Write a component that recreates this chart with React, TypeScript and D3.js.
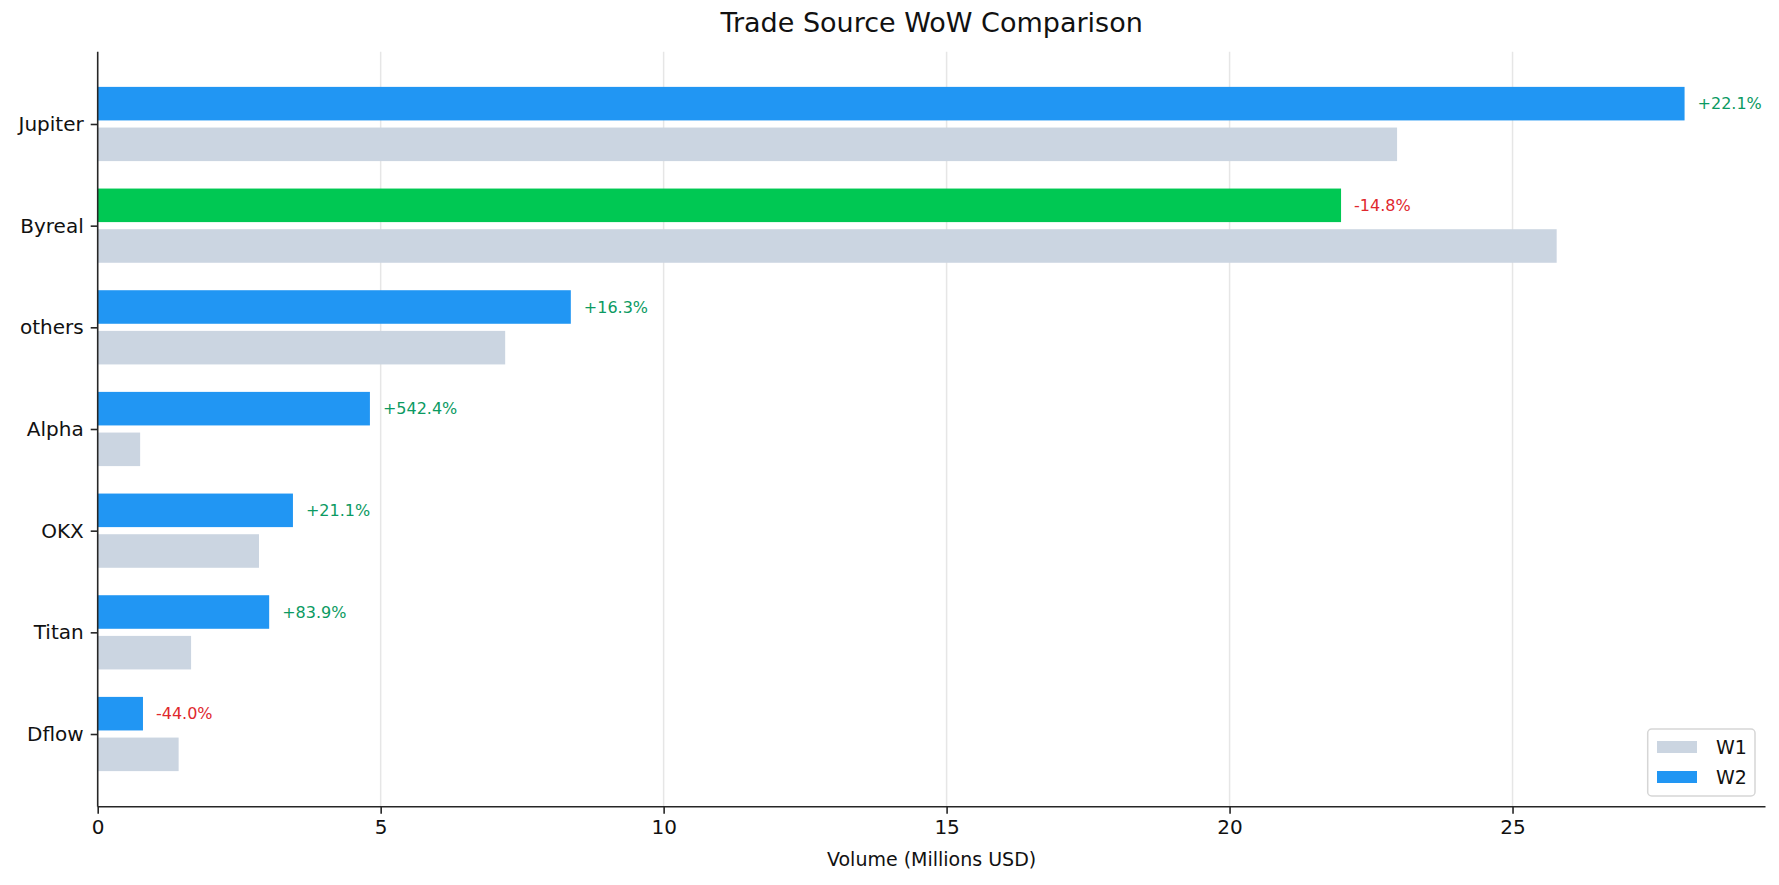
import { useRef, useEffect } from 'react';
import * as d3 from 'd3';

// data (millions USD)
const categories = ["Jupiter", "Byreal", "others", "Alpha", "OKX", "Titan", "Dflow"];
const w1_values = [22.96, 25.78, 7.20, 0.75, 2.85, 1.65, 1.43];
const w2_values = [28.04, 21.97, 8.36, 4.81, 3.45, 3.03, 0.80];
const pct_labels = ["+22.1%", "-14.8%", "+16.3%", "+542.4%", "+21.1%", "+83.9%", "-44.0%"];
const x_ticks = [0, 5, 10, 15, 20, 25];
const highlight = "Byreal";

export default function App() {
    const ref = useRef(null);

    const svg_width = 1779;
    const svg_height = 885;
    const font = "'DejaVu Sans', sans-serif";

    useEffect(() => {
        const svg = d3.select(ref.current)
            .append("svg")
                .attr("width", svg_width)
                .attr("height", svg_height)
                .style("position", "absolute")
                .style("left", "0px")
                .style("top", "0px")
                .style("background", "white");

        const left = 97.7, right = 1765.5, top = 51.7, bottom = 806.7;

        const x = d3.scaleLinear()
            .domain([0, 29.47])
            .range([left, right]);

        const y = d3.scaleLinear()
            .domain([-0.711, 6.715])
            .range([top, bottom]);

        const bar_h = y(0.33) - y(0);

        // grid
        svg.append("g").selectAll("line")
            .data(x_ticks.slice(1))
            .enter()
            .append("line")
                .attr("x1", (d) => x(d))
                .attr("x2", (d) => x(d))
                .attr("y1", top)
                .attr("y2", bottom)
                .attr("stroke", "#e6e6e6")
                .attr("stroke-width", 1.5);

        // W1 bars
        svg.append("g").selectAll("rect")
            .data(categories)
            .enter()
            .append("rect")
                .attr("x", x(0))
                .attr("y", (d, i) => y(i + 0.2) - bar_h / 2)
                .attr("width", (d, i) => x(w1_values[i]) - x(0))
                .attr("height", bar_h)
                .attr("fill", "#cbd5e1");

        // W2 bars
        svg.append("g").selectAll("rect")
            .data(categories)
            .enter()
            .append("rect")
                .attr("x", x(0))
                .attr("y", (d, i) => y(i - 0.2) - bar_h / 2)
                .attr("width", (d, i) => x(w2_values[i]) - x(0))
                .attr("height", bar_h)
                .attr("fill", (d) => d === highlight ? "#00c853" : "#2196f3");

        // change labels
        svg.append("g").selectAll("text")
            .data(categories)
            .enter()
            .append("text")
                .attr("x", (d, i) => x(w2_values[i]) + 13)
                .attr("y", (d, i) => y(i - 0.2))
                .attr("dy", "0.35em")
                .style("font-size", "16px")
                .style("font-family", font)
                .attr("fill", (d, i) => pct_labels[i].startsWith("-") ? "#e0282e" : "#0b9a62")
                .text((d, i) => pct_labels[i]);

        // axes
        const axis_color = "#262626";
        const x_axis = svg.append("g")
            .attr("transform", `translate(0, ${bottom})`)
            .call(d3.axisBottom(x).tickValues(x_ticks).tickFormat(d3.format("d")).tickSize(7).tickPadding(6));
        x_axis.select(".domain").attr("d", `M${left},0H${right}`);

        const y_axis = svg.append("g")
            .attr("transform", `translate(${left}, 0)`)
            .call(d3.axisLeft(y).tickValues(d3.range(categories.length)).tickFormat((d) => categories[+d]).tickSize(7).tickPadding(7));
        y_axis.select(".domain").attr("d", `M0,${top}V${bottom}`);

        [x_axis, y_axis].forEach((a) => {
            a.select(".domain").attr("stroke", axis_color).attr("stroke-width", 1.6);
            a.selectAll(".tick line").attr("stroke", axis_color).attr("stroke-width", 1.6);
            a.selectAll(".tick text")
                .attr("fill", "#111")
                .style("font-size", "20px")
                .style("font-family", font);
        });

        // title + x label
        svg.append("text")
            .attr("x", (left + right) / 2)
            .attr("y", 32)
            .style("text-anchor", "middle")
            .style("font-size", "27px")
            .style("font-family", font)
            .attr("fill", "#111")
            .text("Trade Source WoW Comparison");

        svg.append("text")
            .attr("x", (left + right) / 2)
            .attr("y", 866)
            .style("text-anchor", "middle")
            .style("font-size", "19px")
            .style("font-family", font)
            .attr("fill", "#111")
            .text("Volume (Millions USD)");

        // legend
        const legend = svg.append("g");
        legend.append("rect")
            .attr("x", 1647.7)
            .attr("y", 729)
            .attr("width", 107.3)
            .attr("height", 67)
            .attr("rx", 4)
            .attr("fill", "white")
            .attr("fill-opacity", 0.8)
            .attr("stroke", "#d6d6d6")
            .attr("stroke-width", 1.5);

        const legend_items = [["W1", "#cbd5e1"], ["W2", "#2196f3"]];
        legend_items.forEach(([label, color], i) => {
            legend.append("rect")
                .attr("x", 1657)
                .attr("y", 741 + i * 30)
                .attr("width", 40)
                .attr("height", 12)
                .attr("fill", color);
            legend.append("text")
                .attr("x", 1716)
                .attr("y", 747 + i * 30)
                .attr("dy", "0.35em")
                .style("font-size", "19px")
                .style("font-family", font)
                .attr("fill", "#111")
                .text(label);
        });

        return () => {
            d3.select(ref.current).selectAll("*").remove();
        };
    }, [ref]);

    return (
        <div ref={ref} />
    );
}
